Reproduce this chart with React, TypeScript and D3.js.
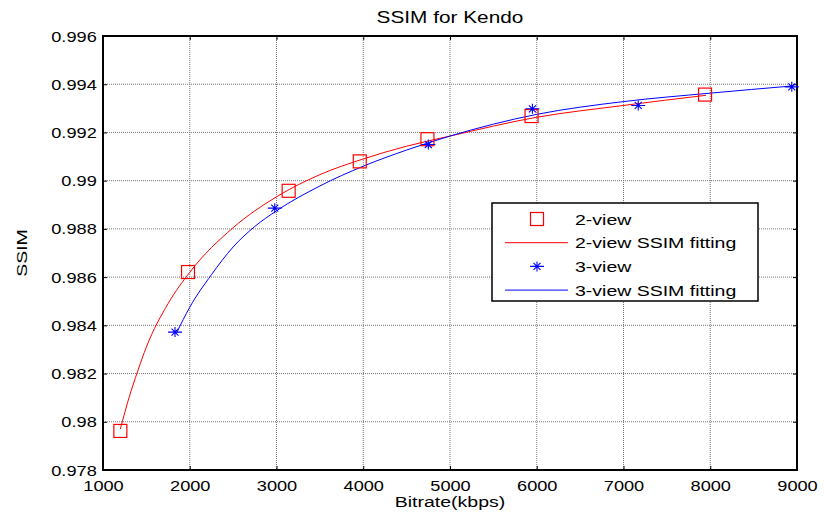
import React, { useEffect, useRef } from 'react'
import * as d3 from 'd3'

// measured points
const twoViewRate = [1200, 1980, 3140, 3960, 4740, 5940, 7940]
const twoViewSsim = [0.97962, 0.98621, 0.98958, 0.9908, 0.99172, 0.99268, 0.99357]
const threeViewRate = [1830, 2980, 4750, 5950, 7170, 8940]
const threeViewSsim = [0.98372, 0.98886, 0.9915, 0.99298, 0.99312, 0.99389]

// fitted curves
const twoFitRate = [1200, 1300, 1400, 1500, 1750, 2000, 2500, 3000, 3500, 4000, 4500, 5000, 6000, 7000, 7950]
const twoFitSsim = [0.9797, 0.981, 0.9821, 0.9831, 0.9849, 0.9862, 0.98805, 0.98933, 0.99025, 0.9909, 0.99143, 0.99185, 0.99263, 0.99312, 0.99354]
const threeFitRate = [1850, 2000, 2250, 2500, 2750, 3000, 3500, 4000, 4500, 5000, 6000, 7000, 8000, 8950]
const threeFitSsim = [0.9837, 0.98475, 0.9861, 0.98725, 0.9881, 0.98875, 0.98978, 0.9906, 0.99127, 0.99185, 0.99275, 0.99328, 0.99363, 0.99393]

const xTicks = [1000, 2000, 3000, 4000, 5000, 6000, 7000, 8000, 9000]
const yTicks = [0.978, 0.98, 0.982, 0.984, 0.986, 0.988, 0.99, 0.992, 0.994, 0.996]

const legendItems = ['2-view', '2-view SSIM fitting', '3-view', '3-view SSIM fitting']

const FONT = '"Liberation Sans", Arial, sans-serif'
const STRETCH = 1.3

const App = () => {
  const ref = useRef<SVGSVGElement>(null)

  useEffect(() => {
    const svg = d3.select(ref.current)
    svg.selectAll('*').remove()

    const left = 103
    const right = 797
    const top = 36
    const bottom = 470

    const x = d3.scaleLinear().domain([1000, 9000]).range([left, right])
    const y = d3.scaleLinear().domain([0.978, 0.996]).range([bottom, top])

    // wide helvetica look: stretch text along its baseline
    const label = (g: any, tx: number, ty: number, t: string, size: number, anchor = 'start', rot = 0) =>
      g
        .append('text')
        .attr('transform', `translate(${tx},${ty}) rotate(${rot}) scale(${STRETCH},1)`)
        .attr('text-anchor', anchor)
        .attr('font-size', size)
        .attr('font-family', FONT)
        .attr('fill', '#000')
        .text(t)

    // grid
    const grid = svg.append('g')
    grid
      .selectAll('line.gx')
      .data(xTicks.slice(1, -1))
      .enter()
      .append('line')
      .attr('x1', (d) => x(d))
      .attr('x2', (d) => x(d))
      .attr('y1', top)
      .attr('y2', bottom)
      .attr('stroke', '#777')
      .attr('stroke-width', 1)
      .attr('stroke-dasharray', '1,1')
    grid
      .selectAll('line.gy')
      .data(yTicks.slice(1, -1))
      .enter()
      .append('line')
      .attr('x1', left)
      .attr('x2', right)
      .attr('y1', (d) => y(d))
      .attr('y2', (d) => y(d))
      .attr('stroke', '#777')
      .attr('stroke-width', 1)
      .attr('stroke-dasharray', '1,1')

    // axes (ticks pointing inwards)
    const xAxis = d3.axisBottom(x).tickValues(xTicks).tickSize(-4).tickFormat(d3.format('d'))
    const gx = svg.append('g').attr('transform', `translate(0,${bottom})`).call(xAxis)
    gx.select('.domain').remove()
    gx.selectAll('text')
      .attr('y', 21.5)
      .attr('dy', 0)
      .attr('transform', `scale(${STRETCH},1)`)
      .attr('font-size', 14)
      .attr('font-family', FONT)
      .attr('fill', '#000')
    svg
      .append('g')
      .attr('transform', `translate(0,${top})`)
      .call(d3.axisTop(x).tickValues(xTicks).tickSize(-4).tickFormat(() => ''))
      .select('.domain')
      .remove()

    const yAxis = d3.axisLeft(y).tickValues(yTicks).tickSize(-4).tickFormat((d) => String(+d))
    const gy = svg.append('g').attr('transform', `translate(${left},0)`).call(yAxis)
    gy.select('.domain').remove()
    gy.selectAll('text')
      .attr('x', -4.8)
      .attr('dy', '0.36em')
      .attr('transform', `scale(${STRETCH},1)`)
      .attr('font-size', 14)
      .attr('font-family', FONT)
      .attr('fill', '#000')
    svg
      .append('g')
      .attr('transform', `translate(${right},0)`)
      .call(d3.axisRight(y).tickValues(yTicks).tickSize(-4).tickFormat(() => ''))
      .select('.domain')
      .remove()

    svg
      .append('rect')
      .attr('x', left)
      .attr('y', top)
      .attr('width', right - left)
      .attr('height', bottom - top)
      .attr('fill', 'none')
      .attr('stroke', '#000')
      .attr('stroke-width', 2)

    // fitted curves
    const line = d3
      .line<[number, number]>()
      .x((d) => x(d[0]))
      .y((d) => y(d[1]))
      .curve(d3.curveMonotoneX)

    svg
      .append('path')
      .datum(twoFitRate.map((r, i) => [r, twoFitSsim[i]] as [number, number]))
      .attr('d', line)
      .attr('fill', 'none')
      .attr('stroke', '#ff0000')
      .attr('stroke-width', 1)
    svg
      .append('path')
      .datum(threeFitRate.map((r, i) => [r, threeFitSsim[i]] as [number, number]))
      .attr('d', line)
      .attr('fill', 'none')
      .attr('stroke', '#0000ff')
      .attr('stroke-width', 1)

    // markers
    const square = (g: any, cx: number, cy: number) =>
      g
        .append('rect')
        .attr('x', cx - 6.5)
        .attr('y', cy - 6.5)
        .attr('width', 13)
        .attr('height', 13)
        .attr('fill', 'none')
        .attr('stroke', '#ff0000')
        .attr('stroke-width', 1.2)
    const star = (g: any, cx: number, cy: number) => {
      const s = 5
      const p = `M${cx - s - 2},${cy}H${cx + s + 2}M${cx},${cy - s}V${cy + s}` +
        `M${cx - s * 0.7},${cy - s * 0.7}L${cx + s * 0.7},${cy + s * 0.7}` +
        `M${cx - s * 0.7},${cy + s * 0.7}L${cx + s * 0.7},${cy - s * 0.7}`
      g.append('path').attr('d', p).attr('stroke', '#0000ff').attr('stroke-width', 1.1).attr('fill', 'none')
    }

    const marks = svg.append('g')
    twoViewRate.forEach((r, i) => square(marks, x(r), y(twoViewSsim[i])))
    threeViewRate.forEach((r, i) => star(marks, x(r), y(threeViewSsim[i])))

    // legend
    const lg = svg.append('g')
    lg.append('rect')
      .attr('x', 492)
      .attr('y', 203)
      .attr('width', 266)
      .attr('height', 98)
      .attr('fill', '#fff')
      .attr('stroke', '#000')
      .attr('stroke-width', 1.5)
    legendItems.forEach((t, i) => {
      const ly = 219 + i * 23.7
      if (i === 0) square(lg, 537, ly)
      if (i === 2) star(lg, 537, ly)
      if (i === 1 || i === 3) {
        lg.append('line')
          .attr('x1', 505)
          .attr('x2', 568)
          .attr('y1', ly)
          .attr('y2', ly)
          .attr('stroke', i === 1 ? '#ff0000' : '#0000ff')
          .attr('stroke-width', 1)
      }
      label(lg, 575, ly + 5.5, t, 15)
    })

    // titles
    label(svg, (left + right) / 2, 23, 'SSIM for Kendo', 16, 'middle')
    label(svg, (left + right) / 2, 507, 'Bitrate(kbps)', 15, 'middle')
    label(svg, 27, (top + bottom) / 2, 'SSIM', 15, 'middle', -90)
  }, [])

  return (
    <svg
      ref={ref}
      width={824}
      height={520}
      style={{ position: 'absolute', left: 0, top: 0, background: '#fff' }}
    />
  )
}

export default App
